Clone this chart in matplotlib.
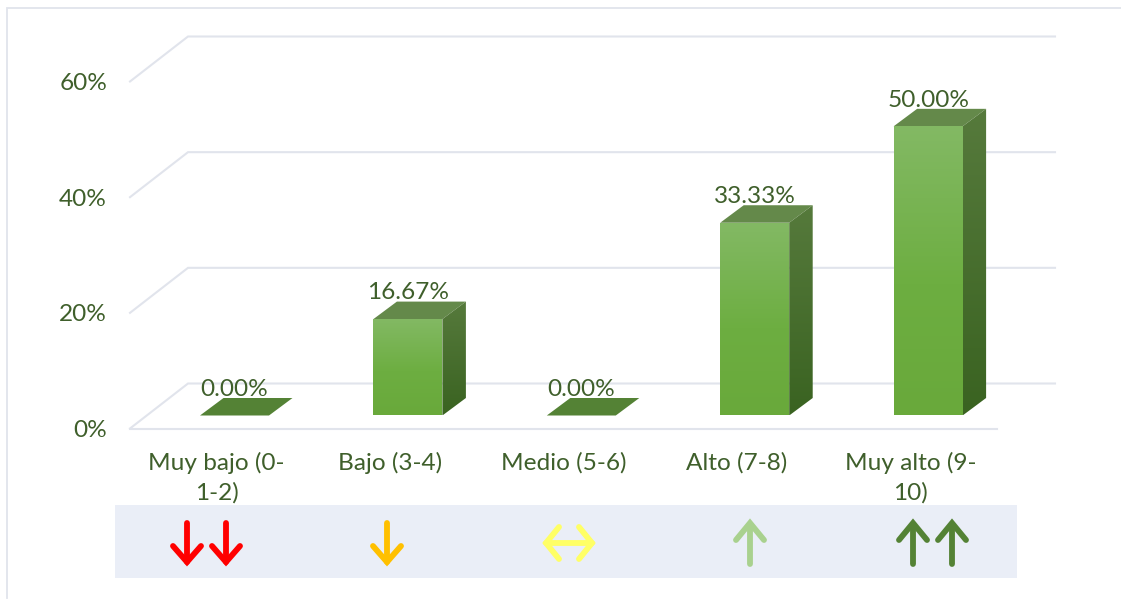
import numpy as np
import matplotlib
matplotlib.use("Agg")
import matplotlib.pyplot as plt
from matplotlib.patches import Polygon, Rectangle
from matplotlib.ticker import PercentFormatter

categories = ["Muy bajo (0-\n1-2)", "Bajo (3-4)", "Medio (5-6)", "Alto (7-8)", "Muy alto (9-\n10)"]
values = [0.0, 16.67, 0.0, 33.33, 50.0]
value_labels = ["0.00%", "16.67%", "0.00%", "33.33%", "50.00%"]
y_ticks = [0, 20, 40, 60]

arrow_dirs = [["down", "down"], ["down"], ["both"], ["up"], ["up", "up"]]
arrow_x_px = [[187, 226], [387], [569], [750], [913, 952]]
arrow_colors = ["#FF0000", "#FFC000", "#FFFF66", "#A9D18E", "#548235"]

TEXT = "#3F5F2B"
GRID = "#E1E4EC"
W, H = 1121, 609
FS = 17.6
plt.rcParams["font.family"] = ["Lato", "DejaVu Sans"]

fig = plt.figure(figsize=(W / 100, H / 100), dpi=100, facecolor="white")

# Front floor plane of the chart: 0% at y=428px, 60% at y=81px
L, R, B0, T0 = 130, 997, 428.5, 81.5
ax = fig.add_axes([L / W, 1 - B0 / H, (R - L) / W, (B0 - T0) / H])
ax.set_xlim(-0.5, 4.5)
ax.set_ylim(0, 60)
ax.patch.set_alpha(0)
for s in ["top", "left", "right"]:
    ax.spines[s].set_visible(False)
ax.spines["bottom"].set_color(GRID)
ax.spines["bottom"].set_linewidth(1.5)
ax.set_yticks(y_ticks)
ax.yaxis.set_major_formatter(PercentFormatter(decimals=0))
ax.set_xticks(range(len(categories)))
ax.set_xticklabels(categories, linespacing=1.46)
ax.tick_params(axis="both", length=0, labelsize=FS, labelcolor=TEXT)
ax.tick_params(axis="y", pad=16.5)
ax.tick_params(axis="x", pad=16.7)

px_x = (R - L) / 5
px_y = (B0 - T0) / 60
# back wall offset of the gridlines
GX, GY = 58 / px_x, 45 / px_y
for t in y_ticks:
    ax.plot([-0.5, -0.5 + GX, 4.5 + GX], [t, t + GY, t + GY], color=GRID, lw=1.5,
            clip_on=False, zorder=1, solid_joinstyle="miter")

# bar placement within the 3D box
SX, SY = 17.8 / px_x, 13 / px_y    # front face shift from the floor front
DX, DY = 23.5 / px_x, 17.5 / px_y  # bar depth
BW = 69 / px_x

xs = np.arange(len(values)) + SX


def gradient(poly, stops, x0, x1, y0, y1, z):
    pos = [s[0] for s in stops]
    cols = np.array([matplotlib.colors.to_rgb(s[1]) for s in stops])
    g = np.linspace(0, 1, 128)
    img = np.stack([np.interp(g, pos, cols[:, k]) for k in range(3)], axis=1)[:, None, :]
    im = ax.imshow(img, extent=[x0, x1, y0, y1], aspect="auto", origin="upper", zorder=z)
    im.set_clip_path(poly)


front_stops = [(0, "#83B964"), (0.55, "#6DAE41"), (1, "#69A93B")]
side_stops = [(0, "#567A3C"), (1, "#3A6321")]

for x, v, lab in zip(xs, values, value_labels):
    l, r = x - BW / 2, x + BW / 2
    b, t = SY, SY + v
    top_c = "#64894A" if v > 0 else "#548235"
    ax.add_patch(Polygon([(l, t), (r, t), (r + DX, t + DY), (l + DX, t + DY)],
                         fc=top_c, ec="none", clip_on=False, zorder=3))
    if v > 0:
        bar = ax.bar(x, v, width=BW, bottom=SY, color="none", zorder=3, clip_on=False)[0]
        side = Polygon([(r, b), (r + DX, b + DY), (r + DX, t + DY), (r, t)],
                       fc="none", ec="none", transform=ax.transData)
        ax.add_patch(side)
        gradient(side, side_stops, r, r + DX, b, t + DY, 3)
        gradient(bar, front_stops, l, r, b, t, 4)
    ax.annotate(lab, (x, t), xytext=(0, 26.3 * 0.72), textcoords="offset points",
                ha="center", va="center", fontsize=FS, color=TEXT, zorder=6,
                annotation_clip=False)
ax.set_xlim(-0.5, 4.5)
ax.set_ylim(0, 60)

# Overlay in pixel coordinates: slide frame, band and arrows
ov = fig.add_axes([0, 0, 1, 1])
ov.set_xlim(0, W)
ov.set_ylim(H, 0)
ov.axis("off")
ov.patch.set_alpha(0)
ov.plot([7, 7, W], [598, 8, 8], color=GRID, lw=1.3, solid_joinstyle="miter")
ov.add_patch(Rectangle((115, 505), 902, 73, fc="#EAEEF7", ec="none"))

LW = 4.2
kw = dict(lw=LW, solid_capstyle="round", solid_joinstyle="miter")
for xlist, dirs, col in zip(arrow_x_px, arrow_dirs, arrow_colors):
    for x, d in zip(xlist, dirs):
        if d == "down":
            ov.plot([x, x], [523, 562], color=col, **kw)
            ov.plot([x - 14, x, x + 14], [546, 562, 546], color=col, **kw)
        elif d == "up":
            ov.plot([x, x], [564, 524], color=col, **kw)
            ov.plot([x - 14, x, x + 14], [540, 523, 540], color=col, **kw)
        else:
            ov.plot([x - 23, x + 23], [543, 543], color=col, **kw)
            ov.plot([x - 10, x - 23, x - 10], [527, 543, 559], color=col, **kw)
            ov.plot([x + 10, x + 23, x + 10], [527, 543, 559], color=col, **kw)

fig.savefig("out.png", dpi=100, facecolor="white")
